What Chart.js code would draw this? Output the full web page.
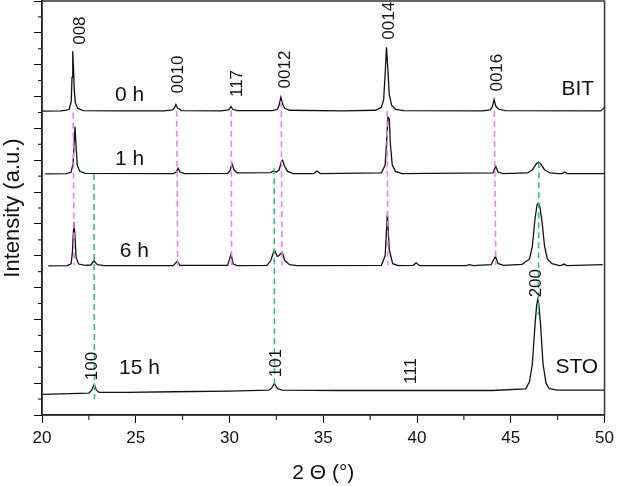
<!DOCTYPE html>
<html>
<head>
<meta charset="utf-8">
<script src="https://cdn.jsdelivr.net/npm/chart.js@4.4.1/dist/chart.umd.min.js"></script>
<style>
  html, body { margin: 0; padding: 0; background: #fff; }
  #wrap { width: 619px; height: 486px; }
</style>
</head>
<body>
<div id="wrap"><canvas id="xrd"></canvas></div>
<script>
// XRD patterns, [2theta, intensity] (offset per sample)
var trace0h = [[20, 9.54], [21.0, 9.55], [21.3, 9.57], [21.45, 9.6], [21.56, 9.85], [21.6, 10.6], [21.64, 11.42], [21.68, 10.9],
  [21.72, 10.2], [21.78, 9.8], [21.9, 9.63], [22.2, 9.56], [24, 9.55], [26.5, 9.55], [26.95, 9.58], [27.05, 9.63], [27.14, 9.75],
  [27.24, 9.63], [27.45, 9.56], [29.5, 9.55], [29.9, 9.57], [30.0, 9.61], [30.08, 9.69], [30.17, 9.6], [30.4, 9.56], [32.3, 9.56],
  [32.55, 9.6], [32.64, 9.72], [32.74, 9.98], [32.84, 9.75], [32.95, 9.63], [33.2, 9.57], [36, 9.55], [37.8, 9.57], [38.1, 9.66],
  [38.22, 9.9], [38.3, 10.7], [38.37, 11.55], [38.44, 10.9], [38.52, 10.05], [38.65, 9.72], [38.85, 9.6], [39.3, 9.56],
  [43.5, 9.55], [43.9, 9.58], [44.02, 9.68], [44.11, 9.91], [44.2, 9.7], [44.35, 9.6], [44.7, 9.56], [49.8, 9.55], [50, 9.66]];

var trace1h = [[20.17, 7.57], [21.3, 7.58], [21.55, 7.62], [21.66, 7.9], [21.71, 8.5], [21.76, 9.06], [21.82, 8.4], [21.88, 7.85],
  [22.0, 7.66], [22.3, 7.59], [27.0, 7.58], [27.15, 7.62], [27.26, 7.75], [27.36, 7.63], [27.6, 7.58], [29.9, 7.59], [30.03, 7.68],
  [30.13, 7.89], [30.24, 7.7], [30.4, 7.6], [32.2, 7.61], [32.34, 7.66], [32.5, 7.63], [32.65, 7.7], [32.76, 7.95], [32.83, 8.0],
  [32.93, 7.82], [33.1, 7.65], [33.4, 7.58], [34.5, 7.58], [34.66, 7.66], [34.85, 7.58], [38.1, 7.6], [38.3, 7.85], [38.38, 8.6],
  [38.45, 9.35], [38.52, 9.3], [38.58, 8.5], [38.68, 7.85], [38.85, 7.65], [39.2, 7.58], [44.05, 7.6], [44.2, 7.81], [44.32, 7.63],
  [44.6, 7.58], [45.9, 7.6], [46.15, 7.7], [46.35, 7.88], [46.47, 7.94], [46.6, 7.88], [46.8, 7.7], [47.1, 7.6], [47.5, 7.58],
  [47.75, 7.58], [47.88, 7.63], [48.0, 7.58], [50, 7.58]];

var trace6h = [[20.33, 4.68], [21.35, 4.69], [21.55, 4.75], [21.62, 5.1], [21.67, 5.7], [21.71, 6.05], [21.76, 5.6], [21.82, 4.95],
  [21.95, 4.74], [22.3, 4.7], [22.6, 4.71], [22.77, 4.84], [22.95, 4.72], [23.3, 4.69], [27.0, 4.69], [27.22, 4.83], [27.35, 4.7],
  [29.9, 4.7], [30.08, 5.05], [30.2, 4.74], [30.4, 4.69], [32.0, 4.7], [32.2, 4.85], [32.39, 5.19], [32.55, 4.98], [32.62, 5.0],
  [32.81, 5.11], [32.95, 4.85], [33.2, 4.72], [33.6, 4.69], [38.1, 4.7], [38.3, 5.0], [38.42, 6.33], [38.52, 5.2], [38.7, 4.75],
  [39.0, 4.69], [39.8, 4.7], [39.95, 4.78], [40.15, 4.69], [42.6, 4.69], [42.8, 4.72], [43.0, 4.69], [43.95, 4.72], [44.18, 4.98],
  [44.32, 4.76], [44.6, 4.7], [45.6, 4.73], [46.0, 4.9], [46.15, 5.3], [46.28, 6.1], [46.4, 6.6], [46.47, 6.65], [46.55, 6.55],
  [46.68, 6.0], [46.8, 5.3], [46.95, 4.9], [47.2, 4.75], [47.6, 4.69], [47.7, 4.7], [47.83, 4.74], [48.0, 4.69], [49.9, 4.72]];

var trace15h = [[20.05, 0.65], [21.5, 0.67], [22.5, 0.69], [22.65, 0.78], [22.78, 0.96], [22.9, 0.78], [23.05, 0.71], [24.5, 0.71],
  [27, 0.73], [30, 0.75], [32.1, 0.78], [32.25, 0.85], [32.39, 0.99], [32.55, 0.83], [32.8, 0.78], [36, 0.77], [40, 0.77],
  [44, 0.77], [45.8, 0.82], [46.0, 1.05], [46.15, 1.6], [46.3, 2.9], [46.38, 3.45], [46.44, 3.63], [46.5, 3.45], [46.58, 2.9],
  [46.72, 1.6], [46.88, 1.0], [47.05, 0.83], [47.5, 0.78], [50, 0.78]];

// BIT reflections (pink) and STO reflections (green): [x top, y top, x bottom, y bottom]
var bitGuides = [[21.66, 9.5, 21.72, 4.7], [27.18, 9.55, 27.24, 4.7], [30.09, 9.55, 30.11, 4.7],
  [32.76, 9.85, 32.8, 4.7], [38.4, 9.55, 38.45, 4.7], [44.12, 9.55, 44.2, 4.7]];
var stoGuides = [[22.77, 7.57, 22.8, 0.5], [32.38, 7.75, 32.4, 0.95], [46.5, 7.94, 46.47, 3.15]];

var peakNames = ['008', '0010', '117', '0012', '0014', '0016', '100', '101', '111', '200'];
var peakSpots = [[22.03, 12.07], [27.26, 10.69], [30.43, 10.41], [32.97, 10.85], [38.52, 12.38], [44.29, 10.75],
  [22.66, 1.54], [32.5, 1.63], [39.69, 1.38], [46.34, 4.14]];

var sampleNames = ['0 h', '1 h', '6 h', '15 h', 'BIT', 'STO'];
var sampleSpots = [[24.67, 10.03], [24.67, 8.03], [24.93, 5.14], [25.2, 1.47], [48.57, 10.22], [48.52, 1.5]];

var FONT = 'Arial, "Liberation Sans", sans-serif';

function pts(arr) {
  return arr.map(function (p) { return { x: p[0], y: p[1] }; });
}

var datasets = [];
[trace0h, trace1h, trace6h, trace15h].forEach(function (t) {
  datasets.push({ data: pts(t), borderColor: '#111', borderWidth: 1.3, showLine: true, pointRadius: 0, order: 2 });
});
bitGuides.forEach(function (g) {
  datasets.push({ data: [{ x: g[0], y: g[1] }, { x: g[2], y: g[3] }], borderColor: '#f27ef2', borderWidth: 1.6,
    borderDash: [6, 4], showLine: true, pointRadius: 0, order: 1 });
});
stoGuides.forEach(function (g) {
  datasets.push({ data: [{ x: g[0], y: g[1] }, { x: g[2], y: g[3] }], borderColor: '#2fbf82', borderWidth: 1.6,
    borderDash: [6, 4], showLine: true, pointRadius: 0, order: 1 });
});

// frame, minor ticks and text labels
var extras = {
  id: 'extras',
  afterDraw: function (chart) {
    var c = chart.ctx, a = chart.chartArea, sx = chart.scales.x, sy = chart.scales.y;
    c.save();
    c.strokeStyle = '#000';
    c.lineWidth = 1;
    var v, p;
    for (v = 22.5; v < 50; v += 5) {
      p = sx.getPixelForValue(v);
      c.beginPath(); c.moveTo(p, a.bottom); c.lineTo(p, a.bottom + 5); c.stroke();
    }
    for (v = 0.5; v < 13; v += 1) {
      p = sy.getPixelForValue(v);
      c.beginPath(); c.moveTo(a.left, p); c.lineTo(a.left - 4, p); c.stroke();
    }
    c.strokeStyle = '#333';
    c.lineWidth = 1.5;
    c.strokeRect(a.left, a.top, a.right - a.left, a.bottom - a.top);

    c.fillStyle = '#111';
    c.textAlign = 'center';
    c.textBaseline = 'middle';
    c.font = '17px ' + FONT;
    peakNames.forEach(function (s, i) {
      c.save();
      c.translate(sx.getPixelForValue(peakSpots[i][0]), sy.getPixelForValue(peakSpots[i][1]));
      c.rotate(-Math.PI / 2);
      c.fillText(s, 0, 0);
      c.restore();
    });
    c.font = '21px ' + FONT;
    sampleNames.forEach(function (s, i) {
      c.fillText(s, sx.getPixelForValue(sampleSpots[i][0]), sy.getPixelForValue(sampleSpots[i][1]));
    });
    c.restore();
  }
};

new Chart(document.getElementById('xrd'), {
  type: 'scatter',
  data: { datasets: datasets },
  options: {
    responsive: true,
    maintainAspectRatio: false,
    animation: false,
    layout: { padding: { top: 1, right: 10, left: 0, bottom: 0 } },
    plugins: { legend: { display: false }, tooltip: { enabled: false } },
    scales: {
      x: {
        type: 'linear', min: 20, max: 50,
        ticks: { stepSize: 5, color: '#111', font: { family: FONT, size: 17 }, padding: 5 },
        grid: { drawOnChartArea: false, drawTicks: true, tickLength: 8, color: '#000' },
        border: { color: '#000', width: 1.5 },
        title: { display: true, text: '2 Θ (°)', color: '#111', font: { family: FONT, size: 21 }, padding: { top: 0, bottom: 0 } },
        afterFit: function (s) { s.height = 71; }
      },
      y: {
        type: 'linear', min: 0, max: 13,
        ticks: { stepSize: 1, display: false },
        grid: { drawOnChartArea: false, drawTicks: true, tickLength: 8, color: '#000' },
        border: { color: '#000', width: 1.5 },
        title: { display: true, text: 'Intensity (a.u.)', color: '#111', font: { family: FONT, size: 22 }, padding: 0 },
        afterFit: function (s) { s.width = 42; }
      }
    }
  },
  plugins: [extras]
});
</script>
</body>
</html>
